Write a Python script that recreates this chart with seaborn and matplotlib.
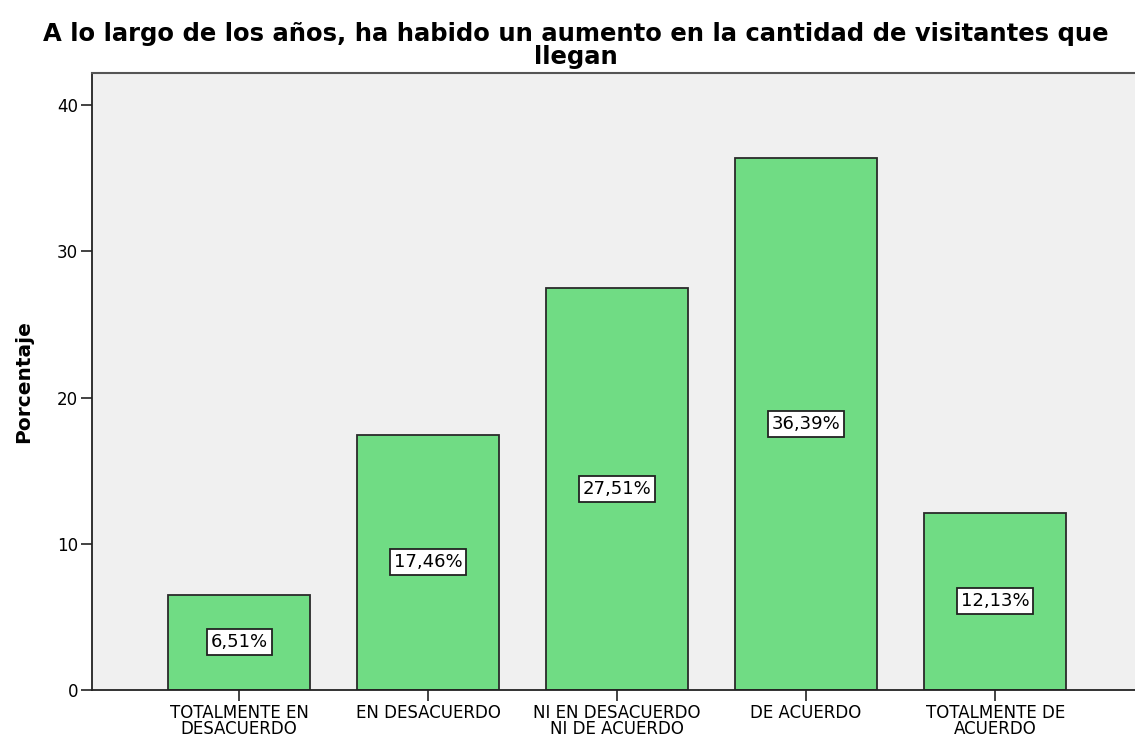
import pandas as pd
import numpy as np
import matplotlib
matplotlib.use('Agg')
import matplotlib.pyplot as plt
import seaborn as sns

categorias = ['TOTALMENTE EN\nDESACUERDO', 'EN DESACUERDO', 'NI EN DESACUERDO\nNI DE ACUERDO',
              'DE ACUERDO', 'TOTALMENTE DE\nACUERDO']
porcentajes = [6.51, 17.46, 27.51, 36.39, 12.13]
etiquetas = ['6,51%', '17,46%', '27,51%', '36,39%', '12,13%']
titulo = 'A lo largo de los años, ha habido un aumento en la cantidad de visitantes que\nllegan'

sns.set_style('white')
plt.rcParams['font.family'] = ['DejaVu Sans']
plt.rcParams['text.color'] = 'black'
plt.rcParams['xtick.color'] = '#222222'
plt.rcParams['ytick.color'] = '#222222'

df = pd.DataFrame({'cat': categorias, 'pct': porcentajes})

fig = plt.figure(figsize=(11.35, 7.38), dpi=100)
ax = fig.add_axes([92/1135, 1 - 690/738, 1 - 92/1135, (690 - 73)/738])
ax.set_facecolor('#f0f0f0')

sns.barplot(data=df, x='cat', y='pct', color='#70dc84', saturation=1, width=0.75,
            edgecolor='#2a2a2a', linewidth=1.3, ax=ax)

for i, (v, t) in enumerate(zip(porcentajes, etiquetas)):
    ax.text(i, v / 2, t, ha='center', va='center', fontsize=13, color='black',
            bbox=dict(boxstyle='square,pad=0.22', facecolor='white', edgecolor='#222222', linewidth=1.3))

ax.set_xlim(-0.778, 4.74)
ax.set_ylim(0, 42.2)
ax.set_yticks([0, 10, 20, 30, 40])
ax.set_xlabel('')
ax.set_ylabel('Porcentaje', fontsize=14.5, fontweight='bold', color='black', va='center')
ax.yaxis.set_label_coords(-0.066, 0.5)
ax.tick_params(axis='both', direction='out', length=8, width=1.2,
               labelsize=12, pad=2, left=True, bottom=True, labelcolor='black')
ax.set_xticks(range(len(categorias)))
ax.set_xticklabels(categorias, linespacing=0.9)

for s in ['left', 'bottom']:
    ax.spines[s].set_color('#222222')
    ax.spines[s].set_linewidth(1.3)
ax.spines['top'].set_color('#555555')
ax.spines['top'].set_linewidth(1.5)
ax.spines['right'].set_visible(False)

fig.suptitle(titulo, x=576/1135, y=1 - 22/738, fontsize=17.5, fontweight='bold',
             linespacing=0.95, va='top', color='black')

fig.savefig('out.png', dpi=100)
